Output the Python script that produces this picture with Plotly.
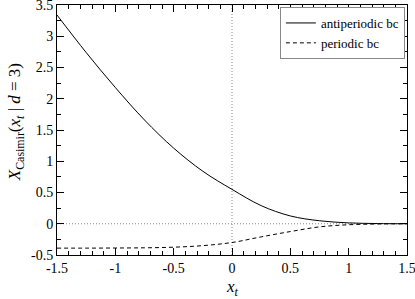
import plotly.graph_objects as go

x_vals = [-1.5, -1.25, -1.0, -0.75, -0.5, -0.25, 0.0, 0.25, 0.5, 0.75, 1.0, 1.25, 1.5]
antiperiodic = [3.34, 2.74, 2.18, 1.66, 1.21, 0.84, 0.55, 0.29, 0.125, 0.048, 0.014, 0.003, 0.0]
periodic = [-0.39, -0.39, -0.388, -0.385, -0.375, -0.35, -0.30, -0.21, -0.125, -0.05, -0.016, -0.004, 0.0]

x_ticks = [-1.5, -1.0, -0.5, 0.0, 0.5, 1.0, 1.5]
x_tick_labels = ["-1.5", "-1", "-0.5", "0", "0.5", "1", "1.5"]
y_ticks = [-0.5, 0.0, 0.5, 1.0, 1.5, 2.0, 2.5, 3.0, 3.5]
y_tick_labels = ["-0.5", "0", "0.5", "1", "1.5", "2", "2.5", "3", "3.5"]

x_title = "<i>x<sub>t</sub></i>"
y_title = "<i>X</i><sub>Casimir</sub>(<i>x<sub>t</sub></i> | <i>d</i> = 3)"

font = "Liberation Serif, Times New Roman, Times, serif"

fig = go.Figure()
fig.add_trace(go.Scatter(x=x_vals, y=antiperiodic, mode="lines", name="antiperiodic bc",
                         line=dict(color="black", width=1, shape="spline")))
fig.add_trace(go.Scatter(x=x_vals, y=periodic, mode="lines", name="periodic bc",
                         line=dict(color="black", width=1, dash="4px,3px", shape="spline")))

fig.add_hline(y=0, line=dict(color="#888888", width=1, dash="1px,2px"), layer="below")
fig.add_vline(x=0, line=dict(color="#888888", width=1, dash="1px,2px"), layer="below")

axis_common = dict(showline=True, linecolor="black", linewidth=1, mirror="ticks",
                   ticks="inside", ticklen=7, tickcolor="black", tickwidth=1,
                   showgrid=False, zeroline=False, automargin=False,
                   ticklabeloverflow="allow",
                   tickfont=dict(family=font, size=14, color="black"))

fig.update_xaxes(range=[-1.5, 1.5], tickvals=x_ticks, ticktext=x_tick_labels,
                 minor=dict(ticks="inside", ticklen=4, dtick=0.1, tickcolor="black", showgrid=False),
                 **axis_common)
fig.update_yaxes(range=[-0.5, 3.5], tickvals=y_ticks, ticktext=y_tick_labels,
                 minor=dict(ticks="inside", ticklen=4, dtick=0.25, tickcolor="black", showgrid=False),
                 **axis_common)

fig.add_annotation(text=x_title, xref="paper", yref="paper", x=0.5, y=-0.133,
                   xanchor="center", yanchor="middle", showarrow=False,
                   font=dict(family=font, size=17, color="black"))
fig.add_annotation(text=y_title, xref="paper", yref="paper", x=-0.118, y=0.53,
                   xanchor="center", yanchor="middle", showarrow=False, textangle=-90,
                   font=dict(family=font, size=17, color="black"))

fig.update_layout(
    width=415, height=299,
    margin=dict(l=57, r=8, t=5, b=44),
    paper_bgcolor="white", plot_bgcolor="white",
    font=dict(family=font, color="black"),
    legend=dict(x=0.994, y=0.992, xanchor="right", yanchor="top",
                bordercolor="#888888", borderwidth=1, bgcolor="white",
                font=dict(family=font, size=13, color="black"),
                itemwidth=30, tracegroupgap=0),
    showlegend=True,
)

fig.write_html("out.html", config={"displayModeBar": False},
               post_script="document.body.style.margin='0';document.body.style.padding='0';")
